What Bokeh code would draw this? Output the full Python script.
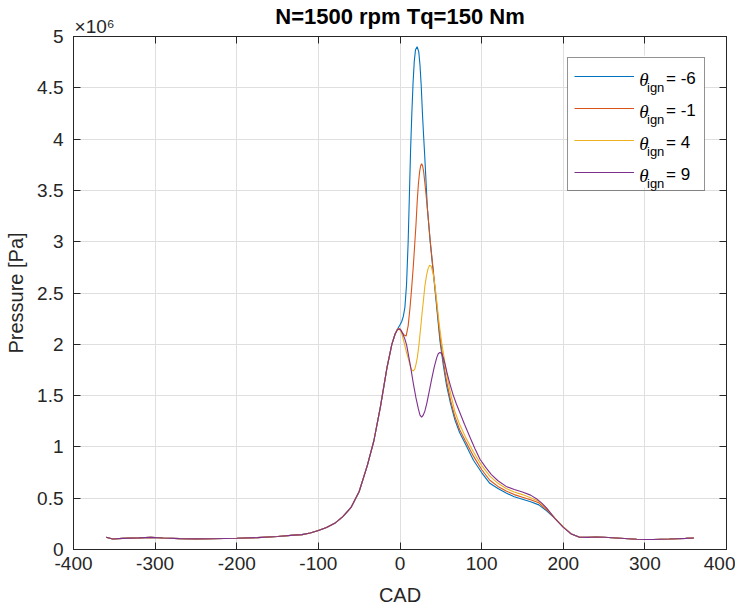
from bokeh.plotting import figure
from bokeh.models import (Range1d, LinearAxis, FixedTicker, NumeralTickFormatter,
                          Label, BoxAnnotation, Legend, LegendItem)
from bokeh.embed import file_html
from bokeh.resources import INLINE
from bokeh.core.properties import value

# ---------------- data (pressure in units of 1e6 Pa) ----------------
cad_comp = [-360, -352, -340, -320, -305, -290, -270, -250, -230, -200, -175, -150,
            -130, -120, -110, -100, -90, -80, -70, -60, -50, -40, -32, -24, -16, -10, -6]
p_comp = [0.12, 0.103, 0.108, 0.113, 0.118, 0.112, 0.106, 0.104, 0.105, 0.11, 0.116, 0.126,
          0.14, 0.145, 0.16, 0.185, 0.215, 0.255, 0.32, 0.41, 0.565, 0.82, 1.06, 1.39, 1.77, 2.0, 2.1]

cad_tail = [210, 220, 230, 240, 250, 260, 270, 280, 290, 300, 310, 320, 330, 340, 350, 360]
p_tail = [0.15, 0.12, 0.118, 0.122, 0.12, 0.115, 0.11, 0.105, 0.10, 0.098, 0.098, 0.10,
          0.102, 0.105, 0.108, 0.112]

cad_m6 = [-3, 0, 2, 4, 6, 8, 10, 11.5, 13, 14.5, 16, 17.5, 19, 21, 23, 24.5, 26, 27.5, 28.8,
          30, 31.5, 33.5, 37, 41, 45, 49, 53, 57, 62, 67, 73, 80, 90, 100, 110, 120, 130,
          140, 150, 160, 170, 180, 190, 200]
p_m6 = [2.15, 2.19, 2.22, 2.27, 2.36, 2.58, 3.0, 3.45, 3.9, 4.25, 4.55, 4.76, 4.87, 4.9,
        4.85, 4.72, 4.52, 4.25, 4.05, 3.88, 3.65, 3.33, 3.0, 2.68, 2.36, 2.03, 1.8, 1.6,
        1.42, 1.27, 1.14, 1.03, 0.87, 0.75, 0.645, 0.595, 0.55, 0.515, 0.49, 0.465, 0.435,
        0.375, 0.3, 0.22]

cad_m1 = [-3, 0, 2.5, 5, 7.5, 10, 12.3, 14.3, 16.3, 18, 19.6, 21, 22.5, 24, 25.3, 26.5,
          27.7, 29, 30.5, 32, 33.5, 37, 41, 45, 49, 53, 57, 62, 67, 73, 80, 90, 100, 110,
          120, 130, 140, 150, 160, 170, 180, 190, 200]
p_m1 = [2.15, 2.15, 2.12, 2.09, 2.08, 2.18, 2.36, 2.55, 2.76, 2.97, 3.17, 3.38, 3.56, 3.68,
        3.74, 3.76, 3.74, 3.68, 3.57, 3.45, 3.33, 3.01, 2.7, 2.39, 2.07, 1.84, 1.64, 1.45,
        1.3, 1.17, 1.06, 0.91, 0.78, 0.675, 0.615, 0.57, 0.535, 0.51, 0.485, 0.455, 0.385,
        0.3, 0.22]

cad_p4 = [-3, 0, 2, 5, 8, 10.2, 12.5, 14.5, 16.3, 18.2, 20, 21.2, 23, 25.3, 27, 28.6, 30.5,
          32.7, 34.5, 36.3, 38.3, 40.8, 43, 45, 48, 51, 54, 57, 62, 67, 73, 80, 90, 100, 110,
          120, 130, 140, 150, 160, 170, 180, 190, 200]
p_p4 = [2.15, 2.14, 2.11, 2.02, 1.92, 1.86, 1.79, 1.75, 1.74, 1.76, 1.82, 1.87, 1.98, 2.16,
        2.3, 2.42, 2.57, 2.68, 2.74, 2.77, 2.76, 2.68, 2.56, 2.42, 2.2, 2.02, 1.87, 1.72, 1.52,
        1.35, 1.22, 1.1, 0.95, 0.82, 0.715, 0.645, 0.595, 0.56, 0.535, 0.505, 0.47, 0.395,
        0.305, 0.22]

cad_p9 = [-3, -1, 1, 3.5, 6, 8.2, 10.5, 13, 16.3, 19.5, 22.5, 24.5, 26.5, 28.5, 30.5, 32.7,
          35.5, 38.8, 42, 45, 47, 49, 51, 53, 55.1, 58, 61.3, 65, 69, 73.5, 79, 86, 92, 98,
          105, 112, 120, 130, 140, 150, 160, 167.5, 174, 180, 190, 200]
p_p9 = [2.145, 2.15, 2.14, 2.1, 2.05, 1.99, 1.89, 1.78, 1.62, 1.48, 1.37, 1.31, 1.29, 1.31,
        1.35, 1.42, 1.53, 1.66, 1.78, 1.87, 1.91, 1.92, 1.91, 1.87, 1.81, 1.71, 1.61, 1.51,
        1.42, 1.33, 1.22, 1.09, 0.98, 0.88, 0.8, 0.73, 0.67, 0.615, 0.585, 0.56, 0.53, 0.493,
        0.45, 0.4, 0.3, 0.215]

ign_values = ["-6", "-1", "4", "9"]
series_cad = [cad_m6, cad_m1, cad_p4, cad_p9]
series_p = [p_m6, p_m1, p_p4, p_p9]
colors = ["#0072BD", "#D95319", "#EDB120", "#7E2F8E"]

x_ticks = [-400, -300, -200, -100, 0, 100, 200, 300, 400]
y_ticks = [0, 0.5, 1, 1.5, 2, 2.5, 3, 3.5, 4, 4.5, 5]

title_text = "N=1500 rpm Tq=150 Nm"
exponent_text = "×10⁶"
x_label = "CAD"
y_label = "Pressure [Pa]"

# ---------------- figure ----------------
FONT = "Liberation Sans"
TXT = "#262626"

p = figure(width=735, height=611, x_range=Range1d(-400, 400), y_range=Range1d(0, 5),
           output_backend="svg", toolbar_location=None,
           min_border_left=73, min_border_right=9, min_border_top=34, min_border_bottom=62)
p.background_fill_alpha = 0
p.border_fill_alpha = 0
p.outline_line_color = TXT
p.outline_line_width = 1

for ax, ticks in ((p.xaxis[0], x_ticks), (p.yaxis[0], y_ticks)):
    ax.ticker = FixedTicker(ticks=ticks)
    ax.major_tick_in = 7
    ax.major_tick_out = 0
    ax.minor_tick_line_color = None
    ax.axis_line_color = TXT
    ax.major_tick_line_color = TXT
    ax.major_label_text_font = FONT
    ax.major_label_text_font_size = "19px"
    ax.major_label_text_color = TXT
    ax.axis_label_text_font = FONT
    ax.axis_label_text_font_size = "20px"
    ax.axis_label_text_font_style = "normal"
    ax.axis_label_text_color = TXT

p.xaxis[0].formatter = NumeralTickFormatter(format="0")
p.yaxis[0].formatter = NumeralTickFormatter(format="0.[0]")
p.xaxis[0].axis_label = x_label
p.yaxis[0].axis_label = y_label
p.xaxis[0].major_label_standoff = 7
p.xaxis[0].axis_label_standoff = 11
p.yaxis[0].major_label_standoff = 10
p.yaxis[0].axis_label_standoff = 7

# top axis: inward ticks, the x10^6 exponent as its first tick label, title as its label
top_labels = {t: "" for t in x_ticks}
top_labels[x_ticks[0]] = "\u00a0" * 8 + exponent_text
top_ax = LinearAxis(ticker=FixedTicker(ticks=x_ticks), major_label_overrides=top_labels,
                    major_label_standoff=0, major_label_text_font=FONT,
                    major_label_text_font_size="19px", major_label_text_color=TXT,
                    major_tick_in=7, major_tick_out=0, minor_tick_line_color=None,
                    axis_line_color=TXT, major_tick_line_color=TXT,
                    axis_label=title_text, axis_label_standoff=-16,
                    axis_label_text_font=FONT, axis_label_text_font_size="22px",
                    axis_label_text_font_style="bold", axis_label_text_color="black")
p.add_layout(top_ax, "above")

right_ax = LinearAxis(ticker=FixedTicker(ticks=y_ticks),
                      major_label_overrides={t: "" for t in y_ticks},
                      major_label_standoff=0, major_tick_in=7, major_tick_out=0,
                      minor_tick_line_color=None, axis_line_color=TXT,
                      major_tick_line_color=TXT)
p.add_layout(right_ax, "right")

p.xgrid.ticker = FixedTicker(ticks=x_ticks)
p.ygrid.ticker = FixedTicker(ticks=y_ticks)
p.grid.grid_line_color = "#dfdfdf"
p.grid.grid_line_width = 1

renderers = []
for cad, pr, col in zip(series_cad, series_p, colors):
    xs = cad_comp + cad + cad_tail
    ys = p_comp + pr + p_tail
    renderers.append(p.line(xs, ys, line_color=col, line_width=1.1))

# ---- legend: white panel under the grid-free area, transparent legend for the lines ----
p.add_layout(BoxAnnotation(left=494, right=631, bottom=362, top=494,
                           left_units="screen", right_units="screen",
                           bottom_units="screen", top_units="screen",
                           fill_color="white", fill_alpha=1.0,
                           line_color=None, level="underlay"))
legend = Legend(items=[LegendItem(label=value(" "), renderers=[r]) for r in renderers],
                location="top_right", margin=21, padding=6, spacing=8,
                glyph_width=60, glyph_height=24, label_height=24, label_width=58,
                label_standoff=6, border_line_color=TXT, border_line_width=1,
                background_fill_alpha=0.0, label_text_font_size="12px")
p.add_layout(legend, "center")

for i, v in enumerate(ign_values):
    dy = 32 * i
    p.add_layout(Label(x=565.7, y=470 - dy, x_units="screen", y_units="screen", text="θ",
                       text_font="Liberation Serif", text_font_style="italic",
                       text_font_size="19px", text_color="black",
                       text_baseline="alphabetic"))
    p.add_layout(Label(x=573.5, y=462 - dy, x_units="screen", y_units="screen", text="ign",
                       text_font=FONT, text_font_size="13px", text_color="black",
                       text_baseline="alphabetic"))
    p.add_layout(Label(x=592.5, y=471.3 - dy, x_units="screen", y_units="screen",
                       text="= " + v, text_font=FONT, text_font_size="17px",
                       text_color="black", text_baseline="alphabetic"))

open("out.html", "w").write(file_html(p, INLINE))
